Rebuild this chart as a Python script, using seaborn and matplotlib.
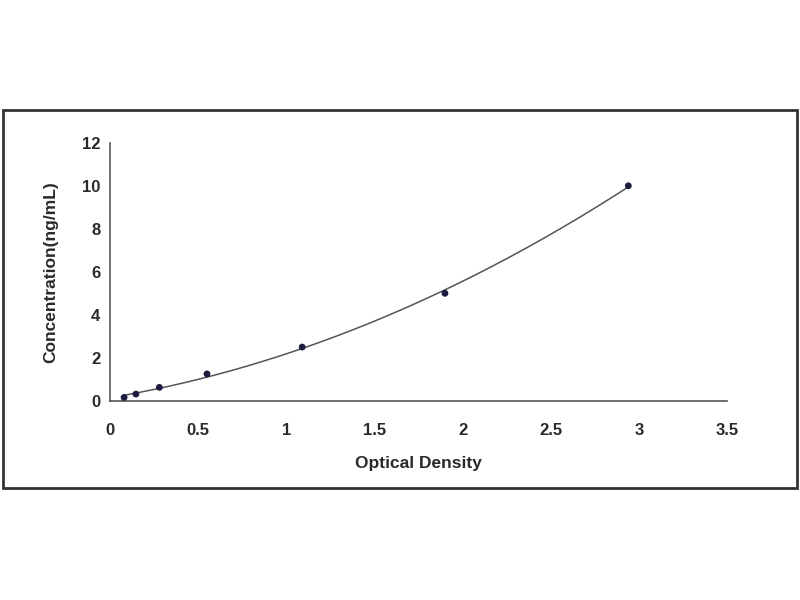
import numpy as np
import pandas as pd
import matplotlib
matplotlib.use("Agg")
import matplotlib.pyplot as plt
import seaborn as sns

# standard curve points
od = [0.08, 0.147, 0.28, 0.55, 1.09, 1.90, 2.94]
conc = [0.156, 0.312, 0.625, 1.25, 2.5, 5.0, 10.0]
x_ticks = [0, 0.5, 1, 1.5, 2, 2.5, 3, 3.5]
x_labels = ["0", "0.5", "1", "1.5", "2", "2.5", "3", "3.5"]
y_ticks = [0, 2, 4, 6, 8, 10, 12]

df = pd.DataFrame({"OD": od, "Conc": conc})

# fitted curve through the standards
coef = np.polyfit(df["OD"], df["Conc"], 2)
xs = np.linspace(min(od), max(od), 200)
fit = pd.DataFrame({"OD": xs, "Conc": np.polyval(coef, xs)})

sns.set_theme(style="white")
plt.rcParams["font.family"] = ["Liberation Sans", "DejaVu Sans"]
text_color = "#2a2a2a"

fig = plt.figure(figsize=(8, 6), dpi=100)
ax = fig.add_axes([0.1375, 0.332, 0.7713, 0.43])

sns.lineplot(data=fit, x="OD", y="Conc", ax=ax, color="#555555", linewidth=1.1)
sns.scatterplot(data=df, x="OD", y="Conc", ax=ax, color="#1c1c40", s=24,
                marker="o", edgecolor="none", zorder=3)

ax.set_xlim(0, 3.5)
ax.set_ylim(0, 12)
ax.set_xticks(x_ticks)
ax.set_xticklabels(x_labels)
ax.set_yticks(y_ticks)
ax.tick_params(direction="in", length=4, width=1, colors="#555555",
               labelcolor=text_color, labelsize=12)
ax.tick_params(axis="x", pad=16)
ax.tick_params(axis="y", pad=7)
for lab in ax.get_xticklabels() + ax.get_yticklabels():
    lab.set_fontweight("bold")

for side in ["top", "right"]:
    ax.spines[side].set_visible(False)
for side in ["left", "bottom"]:
    ax.spines[side].set_color("#555555")
    ax.spines[side].set_linewidth(1.2)

ax.set_xlabel("Optical Density", fontsize=12.5, fontweight="bold", color=text_color, labelpad=13)
ax.set_ylabel("Concentration(ng/mL)", fontsize=12.5, fontweight="bold", color=text_color, labelpad=17)

# outer frame around the chart
frame = plt.Rectangle((0.004, 0.187), 0.992, 0.63, transform=fig.transFigure,
                      fill=False, edgecolor="#333333", linewidth=2)
fig.patches.append(frame)

fig.savefig("out.png", dpi=100, facecolor="white")
